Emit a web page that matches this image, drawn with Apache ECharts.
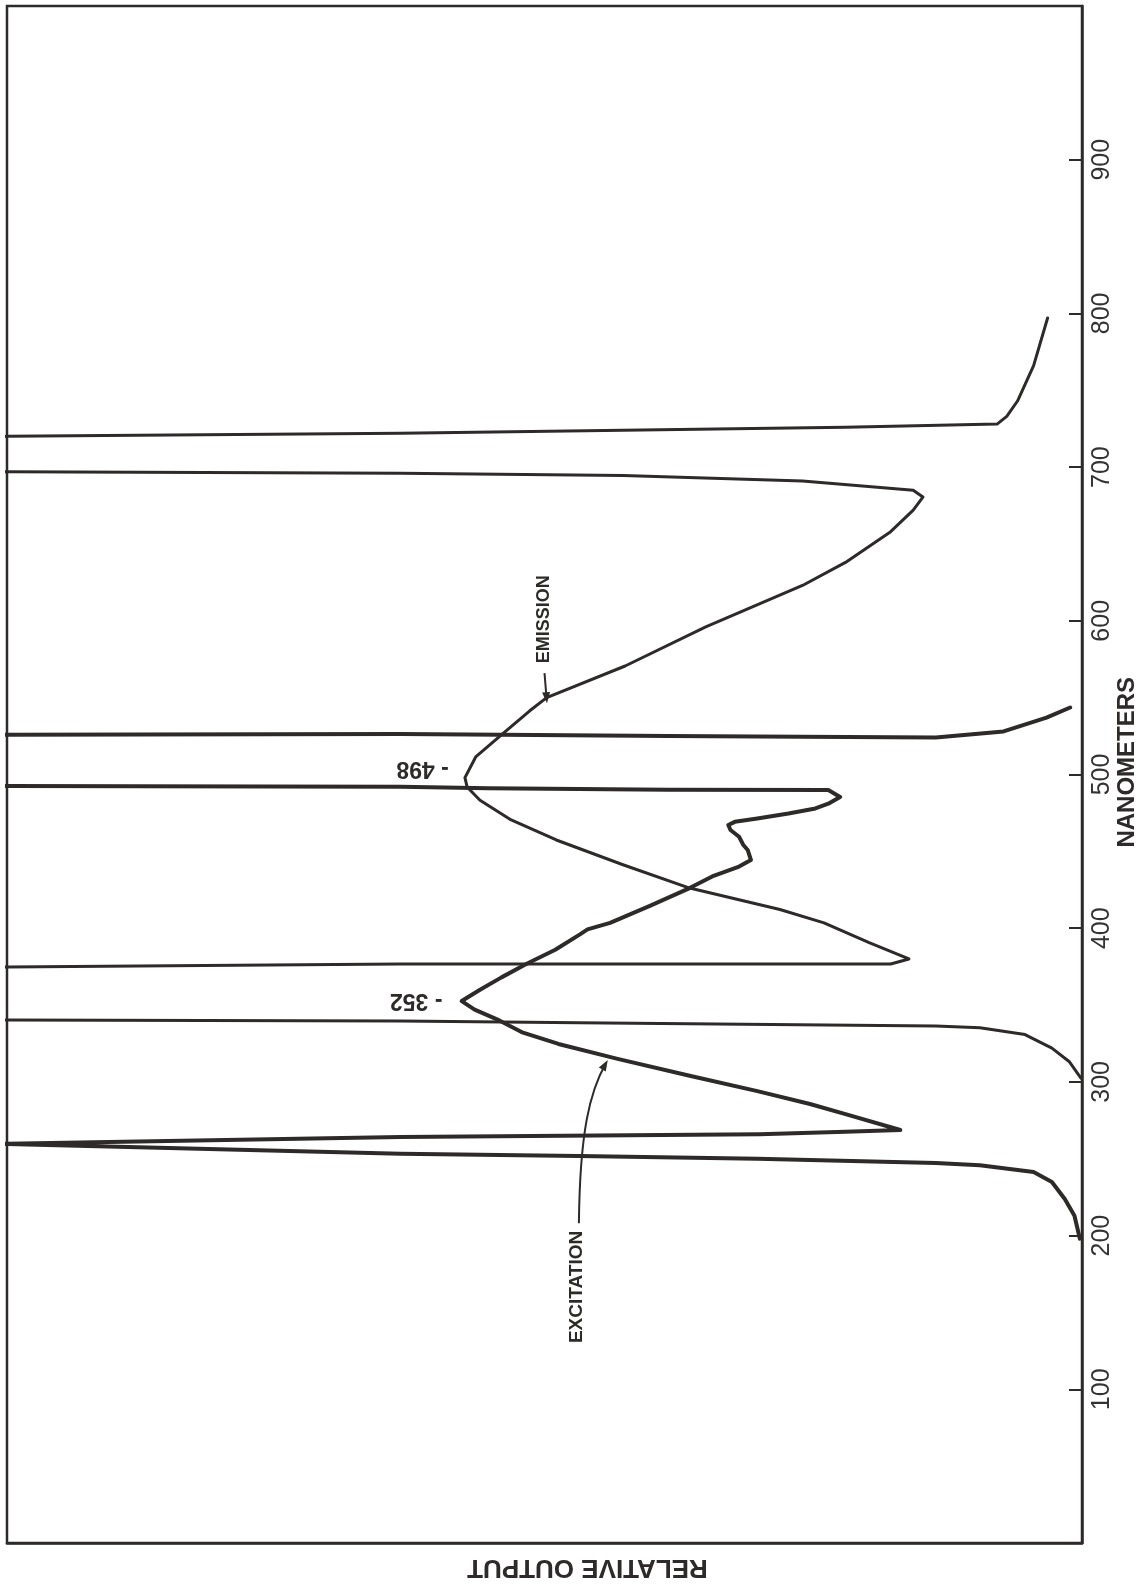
<!DOCTYPE html>
<html>
<head>
<meta charset="utf-8">
<script src="https://cdn.jsdelivr.net/npm/echarts@6/dist/echarts.min.js"></script>
<style>
html,body{margin:0;padding:0;background:#fff;}
#main{width:1142px;height:1587px;}
</style>
</head>
<body>
<div id="main"></div>
<script>
// Wavelength axis ticks (nanometers)
const nmTicks = [100, 200, 300, 400, 500, 600, 700, 800, 900];
const xTitle = 'RELATIVE OUTPUT';
const yTitle = 'NANOMETERS';

// Excitation trace: relative output (0 = baseline, 100 = full scale) vs nanometers
const excitationOutput = [0.2, 0.7, 1.6, 2.8, 4.5, 9.5, 13.6, 30.2, 46.8, 63.4, 100, 108,
  108, 100, 63.4, 30.0, 22.0, 16.9, 22.0, 25.3, 30.2, 36.5, 43.2, 48.7, 52.0, 54.2, 56.5, 57.7,
  56.0, 54.0, 51.7, 49.0, 46.7, 46.0, 43.9, 40.2, 36.5, 34.4, 31.9, 30.8, 31.1, 31.5, 31.9, 32.7,
  32.9, 32.3, 30.2, 27.3, 24.8, 23.6, 22.5, 23.6, 38.5, 55.2, 63.4, 100, 108,
  108, 100, 63.4, 38.5, 13.6, 7.3, 3.3, 1.1];
const excitationNm = [198, 212.9, 223.8, 234.9, 241.4, 245.7, 247.2, 250, 251.8, 253.3, 259.6, 261,
  259.2, 259.8, 264.1, 266.0, 267.5, 268.7, 279, 285.6, 294, 304, 315, 324.7, 332, 340, 347, 352.6,
  360, 368, 376.7, 386, 396, 399.2, 403.5, 414.5, 426.1, 433.7, 440.1, 444.4, 450.9, 454.1, 459.5, 463.9,
  467.1, 469.2, 471.4, 474.6, 477.9, 481, 485.4, 489.9, 490, 491, 492, 492.5, 493,
  526, 525.8, 526.4, 525, 524, 528, 537, 543.6];

// Emission trace
const emissionOutput = [0.1, 1.2, 2.8, 5.3, 9.5, 13.6, 46.8, 63.4, 100, 108,
  108, 100, 63.4, 38.5, 17.8, 16.1, 19.8, 24.0, 28.1, 36.5, 42.7, 48.9, 53.1, 56.0, 57.2, 57.4,
  56.4, 53.9, 51.4, 49.8, 42.5, 35.0, 26.0, 22.0, 17.8, 15.7, 14.8, 15.7, 26.0, 42.7, 63.4, 100, 108,
  108, 100, 63.4, 22.0, 7.9, 7.0, 6.0, 4.5, 3.2];
const emissionNm = [302.5, 313.3, 322, 330.8, 335.2, 336.4, 338.5, 339.6, 340.3, 340.5,
  374.5, 374.8, 376.7, 376.7, 376.7, 380, 390.6, 403.5, 412.2, 426.1, 441.3, 457.4, 470.4, 483.2, 491.9, 498,
  511.4, 526.4, 541.3, 550, 570.6, 596, 623, 638, 658, 672, 680.5, 685, 691, 694.6, 696, 697, 697.5,
  719.5, 720, 722, 726, 728, 733, 743, 766, 797];

// Annotation texts and the data points they refer to
const peakLabels = [
  { text: '- 352', out: 59.5, nm: 353 },
  { text: '- 498', out: 58.9, nm: 504 }
];
const curveLabels = [
  { text: 'EMISSION', out: 50.0, nm: 601, arrowFrom: [50.0, 566], arrowTo: [49.8, 549] },
  { text: 'EXCITATION', out: 47.0, nm: 166.6, arrowFrom: [46.8, 208], arrowTo: [44.3, 312] }
];

const INK = '#2e2a29';
function pairs(xs, ys) { return xs.map((v, i) => [v, ys[i]]); }

const chart = echarts.init(document.getElementById('main'), null, { renderer: 'canvas' });
chart.setOption({
  animation: false,
  backgroundColor: '#ffffff',
  grid: { left: 7, right: 60, top: 6, bottom: 44, containLabel: false, outerBoundsMode: 'none',
    show: true, borderColor: INK, borderWidth: 2.5, backgroundColor: 'transparent' },
  xAxis: {
    type: 'value', min: 0, max: 100, inverse: true,
    axisLine: { show: true, lineStyle: { color: INK, width: 2.5 } },
    axisTick: { show: false }, axisLabel: { show: false }, splitLine: { show: false }
  },
  yAxis: {
    type: 'value', position: 'right', min: 0, max: 1000, interval: 100,
    axisLine: { show: true, lineStyle: { color: INK, width: 2.5 } },
    axisTick: { show: true, inside: true, length: 13, lineStyle: { color: INK, width: 2 } },
    axisLabel: {
      rotate: 90, margin: 8, color: '#333', fontFamily: 'Liberation Sans', fontSize: 25,
      formatter: v => nmTicks.indexOf(v) >= 0 ? String(v) : ''
    },
    splitLine: { show: false }
  },
  series: [
    {
      name: 'Excitation', type: 'line', data: pairs(excitationOutput, excitationNm),
      showSymbol: false, clip: true, smooth: false,
      lineStyle: { color: INK, width: 4, join: 'round', cap: 'round' }
    },
    {
      name: 'Emission', type: 'line', data: pairs(emissionOutput, emissionNm),
      showSymbol: false, clip: true, smooth: false,
      lineStyle: { color: INK, width: 3, join: 'round', cap: 'round' }
    }
  ]
});

function px(o, n) { return chart.convertToPixel({ gridIndex: 0 }, [o, n]); }
const g = [];
// axis titles, placed relative to the plot frame
const rightX = px(0, 0)[0];
const bottomY = px(0, 0)[1];
g.push({ type: 'text', x: rightX + 45, y: px(0, 508)[1], rotation: Math.PI / 2,
  style: { text: yTitle, fill: INK, font: 'bold 24px "Liberation Sans"', align: 'center', verticalAlign: 'middle' } });
g.push({ type: 'text', x: px(46, 0)[0], y: bottomY + 24, rotation: Math.PI,
  style: { text: xTitle, fill: INK, font: 'bold 26px "Liberation Sans"', align: 'center', verticalAlign: 'middle' } });

peakLabels.forEach(l => {
  const p = px(l.out, l.nm);
  g.push({ type: 'text', x: p[0], y: p[1], rotation: Math.PI,
    style: { text: l.text, fill: INK, font: 'bold 23px "Liberation Sans"', align: 'left', verticalAlign: 'middle' } });
});
curveLabels.forEach((l, i) => {
  const p = px(l.out, l.nm);
  g.push({ type: 'text', x: p[0], y: p[1], rotation: Math.PI / 2,
    style: { text: l.text, fill: INK, font: 'bold ' + (i === 0 ? 18 : 19) + 'px "Liberation Sans"', align: 'center', verticalAlign: 'middle' } });
  const a = px(l.arrowFrom[0], l.arrowFrom[1]);
  const b = px(l.arrowTo[0], l.arrowTo[1]);
  let dir;
  if (i === 0) {
    g.push({ type: 'line', shape: { x1: a[0], y1: a[1], x2: b[0], y2: b[1] }, style: { stroke: INK, lineWidth: 2 } });
    dir = [b[0] - a[0], b[1] - a[1]];
  } else {
    const c1 = [a[0] + 1, a[1] - 92];
    const c2 = [a[0] + 11, a[1] - 132];
    g.push({ type: 'bezierCurve', shape: { x1: a[0], y1: a[1], cpx1: c1[0], cpy1: c1[1], cpx2: c2[0], cpy2: c2[1], x2: b[0], y2: b[1] },
      style: { stroke: INK, lineWidth: 2, fill: null } });
    dir = [b[0] - c2[0], b[1] - c2[1]];
  }
  const len = Math.hypot(dir[0], dir[1]);
  const ux = dir[0] / len, uy = dir[1] / len;
  const tip = [b[0] + ux * 4, b[1] + uy * 4];
  const base = [tip[0] - ux * 11, tip[1] - uy * 11];
  const nx = -uy, ny = ux;
  g.push({ type: 'polygon', shape: { points: [tip, [base[0] + nx * 4, base[1] + ny * 4], [base[0] - nx * 4, base[1] - ny * 4]] },
    style: { fill: INK } });
});
chart.setOption({ graphic: g });
</script>
</body>
</html>
